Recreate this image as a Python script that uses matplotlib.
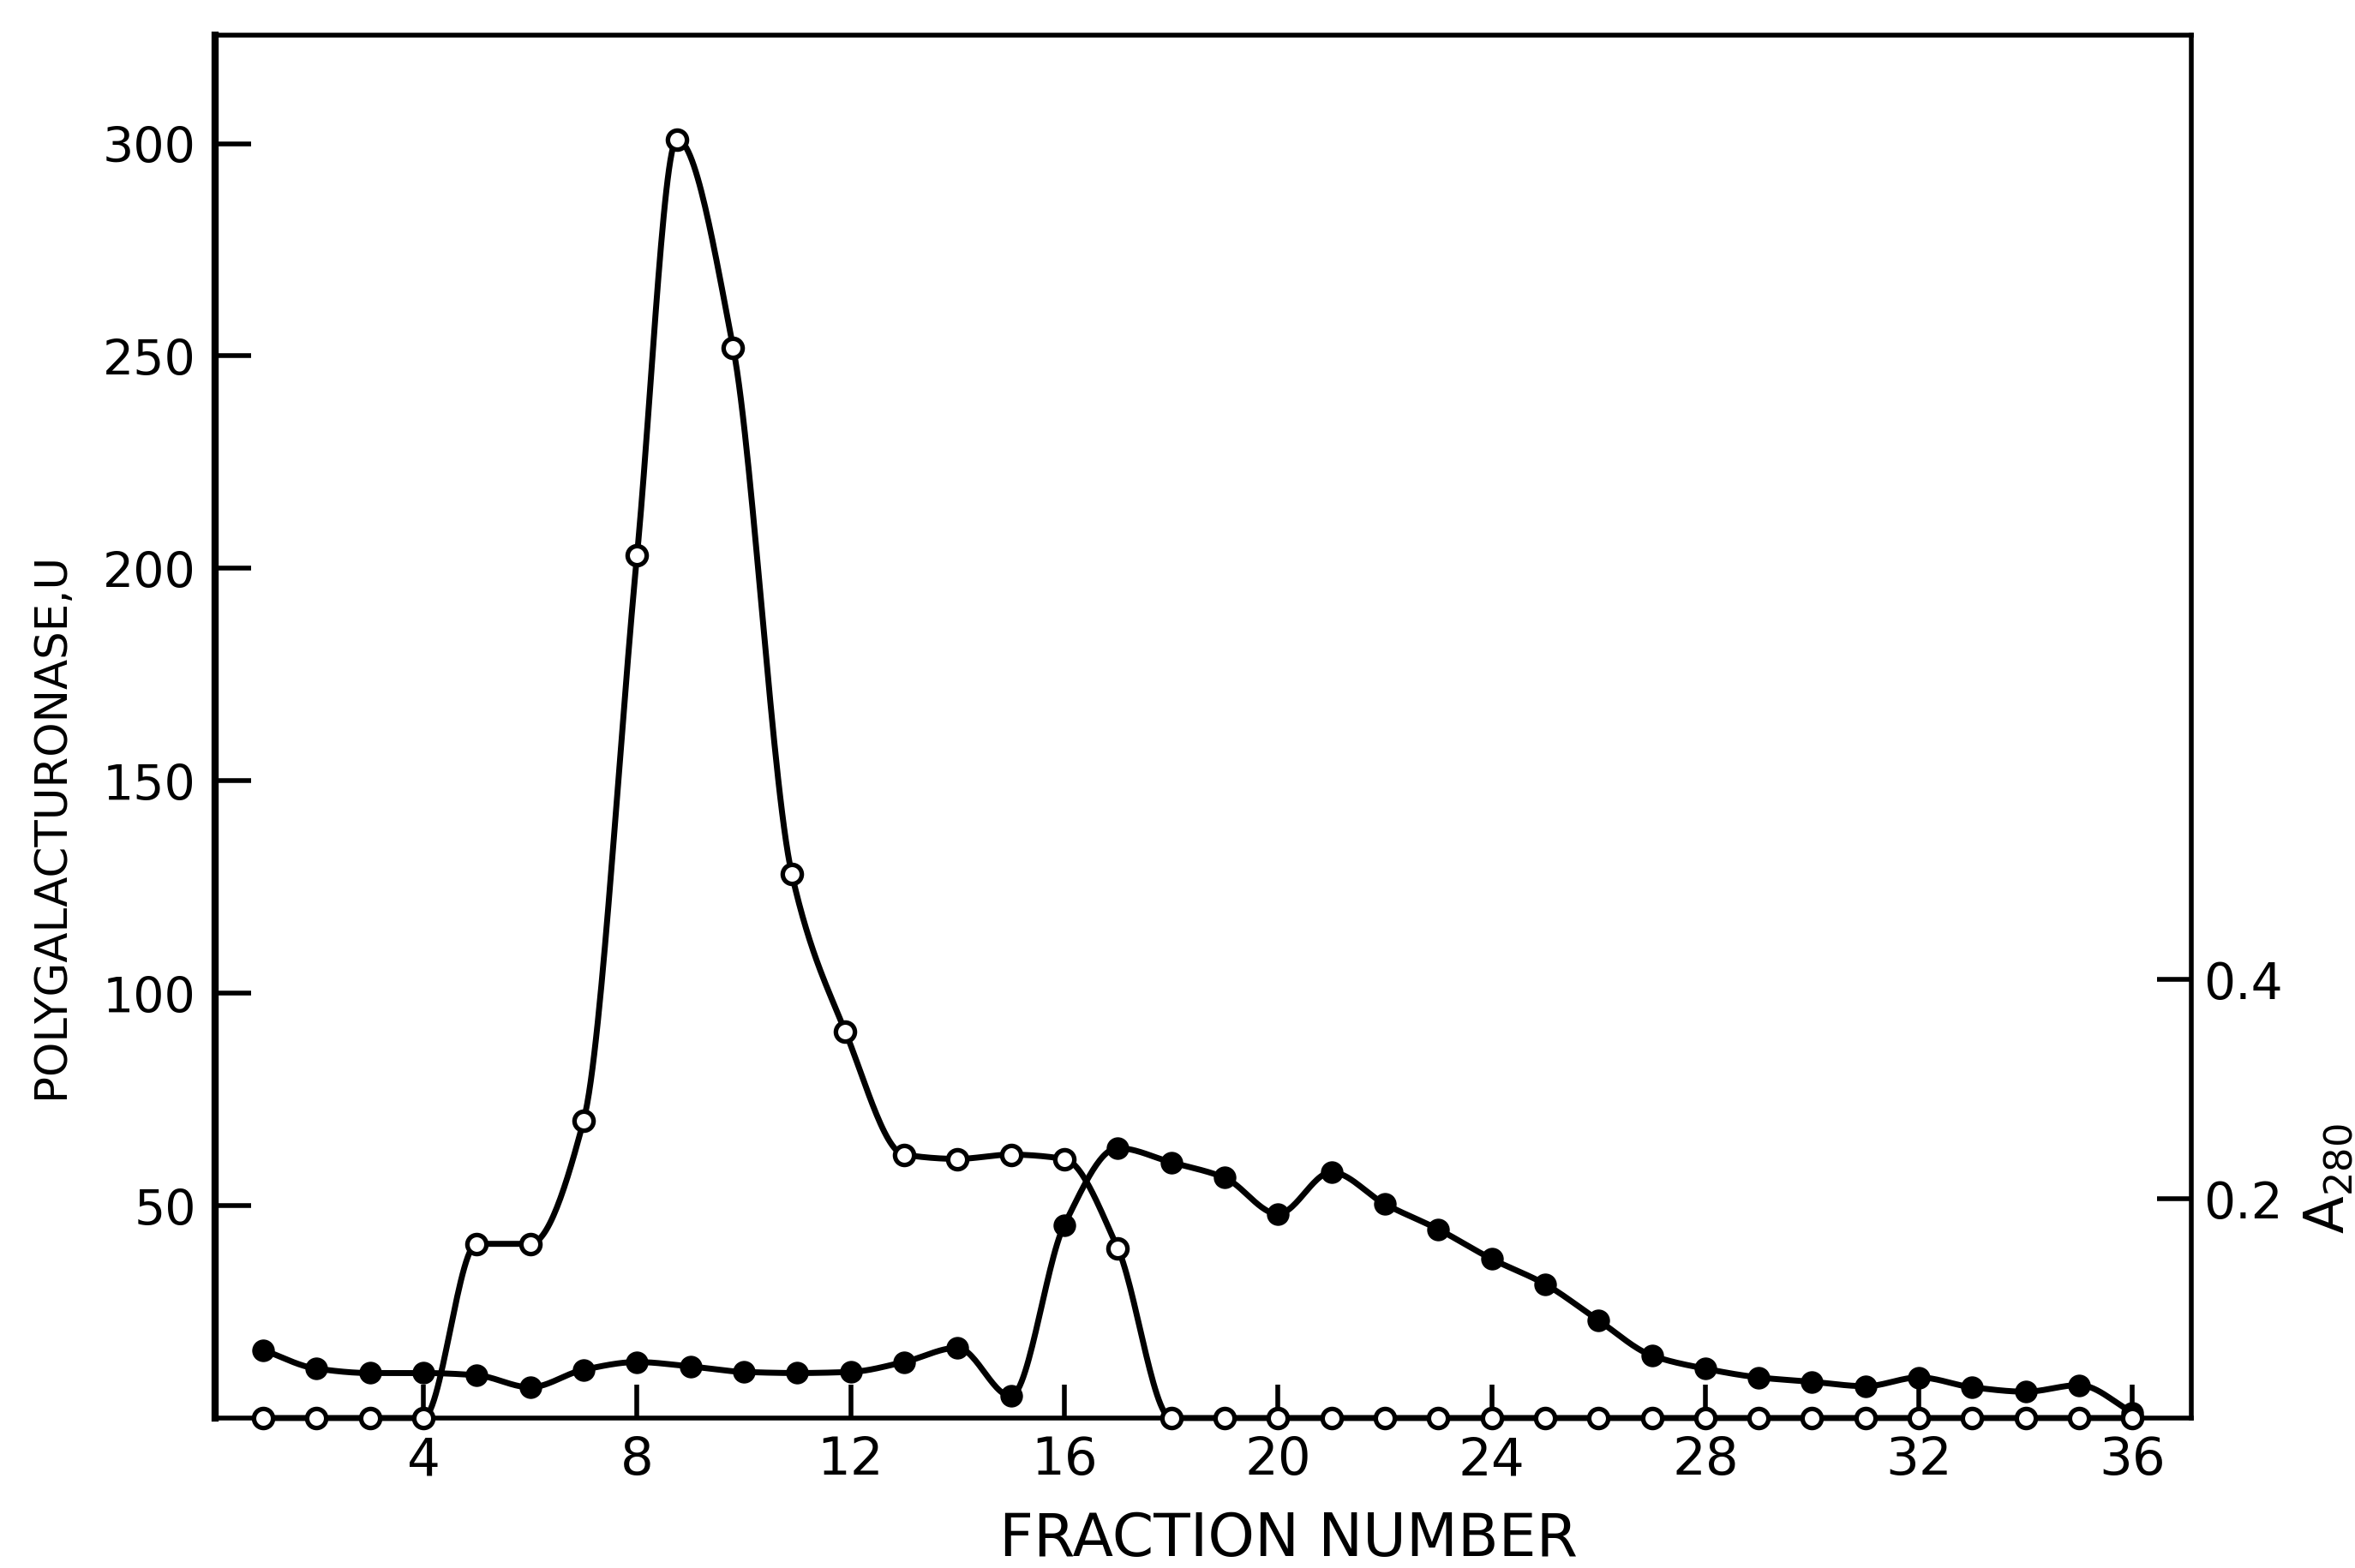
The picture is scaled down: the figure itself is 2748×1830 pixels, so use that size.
import numpy as np
import matplotlib.pyplot as plt

# data
fraction_pg = [1, 2, 3, 4, 5, 6, 7, 8, 8.75, 9.8, 10.9, 11.9, 13, 14, 15, 16, 17, 18,
               19, 20, 21, 22, 23, 24, 25, 26, 27, 28, 29, 30, 31, 32, 33, 34, 35, 36]
pg_units = [0, 0, 0, 0, 41, 41, 70, 203, 301, 252, 128, 91, 62, 61, 62, 61, 40, 0,
            0, 0, 0, 0, 0, 0, 0, 0, 0, 0, 0, 0, 0, 0, 0, 0, 0, 0]

fraction_a = list(range(1, 37))
a280 = [0.062, 0.045, 0.041, 0.041, 0.039, 0.028, 0.044, 0.051, 0.047, 0.042,
        0.041, 0.042, 0.051, 0.064, 0.020, 0.176, 0.246, 0.233, 0.219, 0.186,
        0.224, 0.195, 0.172, 0.145, 0.122, 0.089, 0.057, 0.045, 0.037, 0.033,
        0.029, 0.037, 0.028, 0.024, 0.030, 0.005]

x_ticks = [4, 8, 12, 16, 20, 24, 28, 32, 36]
pg_ticks = [50, 100, 150, 200, 250, 300]
a_ticks = [0.2, 0.4]


def smooth(x, y, n=30):
    # monotone cubic (Fritsch-Carlson), only for drawing the hand-drawn curve
    x = np.asarray(x, float)
    y = np.asarray(y, float)
    h = np.diff(x)
    d = np.diff(y) / h
    m = np.zeros_like(y)
    m[0], m[-1] = d[0], d[-1]
    for k in range(1, len(x) - 1):
        if d[k - 1] * d[k] <= 0:
            m[k] = 0
        else:
            w1 = 2 * h[k] + h[k - 1]
            w2 = h[k] + 2 * h[k - 1]
            m[k] = (w1 + w2) / (w1 / d[k - 1] + w2 / d[k])
    xs, ys = [], []
    for k in range(len(x) - 1):
        t = np.linspace(0, 1, n, endpoint=False)
        h00 = 2 * t**3 - 3 * t**2 + 1
        h10 = t**3 - 2 * t**2 + t
        h01 = -2 * t**3 + 3 * t**2
        h11 = t**3 - t**2
        xs.append(x[k] + t * h[k])
        ys.append(h00 * y[k] + h10 * h[k] * m[k] + h01 * y[k + 1] + h11 * h[k] * m[k + 1])
    xs.append([x[-1]])
    ys.append([y[-1]])
    return np.concatenate(xs), np.concatenate(ys)


fig = plt.figure(figsize=(27.48, 18.31), dpi=100)
ax = fig.add_axes([0.0913, 0.0956, 0.8392, 0.8814])
ax2 = ax.twinx()

# A280 (filled circles)
sx, sy = smooth(fraction_a, a280)
ax2.plot(sx, sy, color='black', lw=5, clip_on=False)
ax2.plot(fraction_a, a280, 'o', color='black', markersize=18, clip_on=False)

# polygalacturonase (open circles)
sx, sy = smooth(fraction_pg, pg_units)
ax.plot(sx, sy, color='black', lw=5, clip_on=False)
ax.plot(fraction_pg, pg_units, 'o', color='black', markerfacecolor='white',
        markersize=16, markeredgewidth=3.8, clip_on=False, zorder=5)

ax.set_zorder(ax2.get_zorder() + 1)
ax.patch.set_visible(False)

ax.set_xlim(0.1, 37.1)
ax.set_ylim(0, 325.5)
ax2.set_ylim(0, 1.26)

ax.set_xticks(x_ticks)
ax.set_xticklabels([str(t) for t in x_ticks], fontsize=44)
ax.set_yticks(pg_ticks)
ax.set_yticklabels([str(t) for t in pg_ticks], fontsize=41)
ax.tick_params(axis='x', direction='in', length=28, width=4, pad=14, top=False)
ax.tick_params(axis='y', direction='in', length=30, width=4, pad=16, right=False)

ax2.set_yticks(a_ticks)
ax2.set_yticklabels([str(t) for t in a_ticks], fontsize=42)
ax2.tick_params(axis='y', direction='in', length=29, width=4, pad=10)

for s in ax2.spines.values():
    s.set_visible(False)
for name, s in ax.spines.items():
    s.set_linewidth(4)
ax.spines['left'].set_linewidth(6)

fig.text(0.547, 0.019, 'FRACTION NUMBER', fontsize=50, ha='center', va='center')
fig.text(0.022, 0.474, 'POLYGALACTURONASE,U', fontsize=37,
         rotation=90, ha='center', va='center')
fig.text(0.9887, 0.2485, r'A$_{280}$', fontsize=46, rotation=90,
         ha='center', va='center')

fig.savefig('out.png', dpi=100, facecolor='white')
